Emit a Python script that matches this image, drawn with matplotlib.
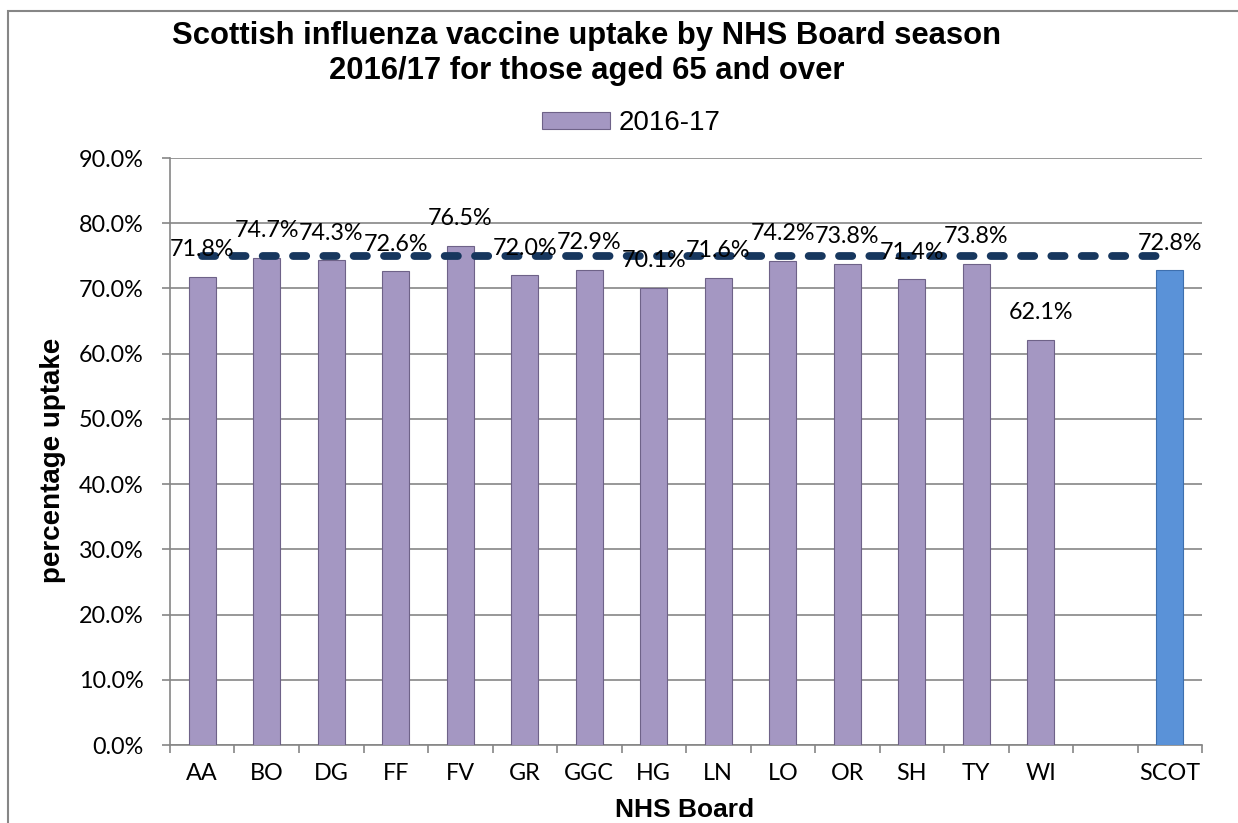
import matplotlib
matplotlib.use("Agg")
import matplotlib.pyplot as plt
from matplotlib.patches import Rectangle
import numpy as np

categories = ["AA", "BO", "DG", "FF", "FV", "GR", "GGC", "HG", "LN", "LO",
              "OR", "SH", "TY", "WI", "", "SCOT"]
uptake_2016_17 = [71.8, 74.7, 74.3, 72.6, 76.5, 72.0, 72.9, 70.1, 71.6, 74.2,
                  73.8, 71.4, 73.8, 62.1, None, 72.8]
target = [75.0] * 16
y_ticks = [0, 10, 20, 30, 40, 50, 60, 70, 80, 90]
y_tick_labels = ["0.0%", "10.0%", "20.0%", "30.0%", "40.0%", "50.0%", "60.0%",
                 "70.0%", "80.0%", "90.0%"]

W, H = 1238, 823
fig = plt.figure(figsize=(W / 100, H / 100), dpi=100)
fig.patch.set_facecolor("white")

# outer chart border (runs off right/bottom edges)
fig.add_artist(Rectangle((8 / W, -0.1), 1.2, 1 - 11 / H + 0.1, transform=fig.transFigure,
                         fill=False, edgecolor="#868686", linewidth=1.5))

ax = fig.add_axes([170 / W, 1 - 745 / H, (1202 - 170) / W, (745 - 158) / H])
x = np.arange(len(categories))
purple = "#A497C2"
blue = "#5A92D8"
colors = [blue if c == "SCOT" else purple for c in categories]
edges = ["#3E6FAE" if c == "SCOT" else "#6E6288" for c in categories]
vals = [np.nan if v is None else v for v in uptake_2016_17]
bars = ax.bar(x, vals, width=0.42, color=colors, edgecolor=edges, linewidth=0.8,
              zorder=3, label="2016-17")

ax.plot(x, target, color="#17375E", linewidth=5.6, linestyle=(0, (1.7, 2.2)),
        dash_capstyle="round", zorder=4)

label_font = "Lato"
fs = 16.8
for xi, v in zip(x, uptake_2016_17):
    if v is None:
        continue
    ax.annotate(f"{v:.1f}%", (xi, v), xytext=(0, 19.5), textcoords="offset points",
                ha="center", va="center", fontsize=fs, family=label_font,
                color="black", zorder=5)

ax.set_xlim(-0.5, len(categories) - 0.5)
ax.set_ylim(0, 90)
ax.set_yticks(y_ticks)
ax.set_yticklabels(y_tick_labels, family=label_font, fontsize=fs)
ax.set_xticks(x)
ax.set_xticklabels(categories, family=label_font, fontsize=fs)
ax.set_xticks(np.arange(-0.5, len(categories)), minor=True)
ax.tick_params(axis="x", which="major", length=0, pad=13)
ax.tick_params(axis="x", which="minor", length=6, color="#868686", width=1.2)
ax.tick_params(axis="y", which="major", length=6, color="#868686", width=1.2, pad=13)
ax.grid(axis="y", color="#868686", linewidth=1.2, zorder=0)
for s in ["top", "right"]:
    ax.spines[s].set_visible(False)
for s in ["left", "bottom"]:
    ax.spines[s].set_color("#868686")
    ax.spines[s].set_linewidth(1.2)

fig.text(53 / W, 1 - 460 / H, "percentage uptake", rotation=90, ha="center", va="center",
         fontsize=20, fontweight="bold", family="Liberation Sans")
fig.text(685 / W, 1 - 810 / H, "NHS Board", ha="center", va="center",
         fontsize=19, fontweight="bold", family="Liberation Sans")

fig.text(587 / W, 1 - 36 / H, "Scottish influenza vaccine uptake by NHS Board season",
         ha="center", va="center", fontsize=22.3, fontweight="bold",
         family="Liberation Sans")
fig.text(587 / W, 1 - 71 / H, "2016/17 for those aged 65 and over",
         ha="center", va="center", fontsize=22.3, fontweight="bold",
         family="Liberation Sans")

leg = ax.legend(handles=[bars], labels=["2016-17"], loc="center",
                bbox_to_anchor=((631 - 170) / (1202 - 170), (745 - 123) / (745 - 158)),
                frameon=False, prop={"family": "Liberation Sans", "size": 20},
                handlelength=2.45, handleheight=0.58, handletextpad=0.3,
                borderpad=0.1)

fig.savefig("out.png", dpi=100, facecolor="white")
